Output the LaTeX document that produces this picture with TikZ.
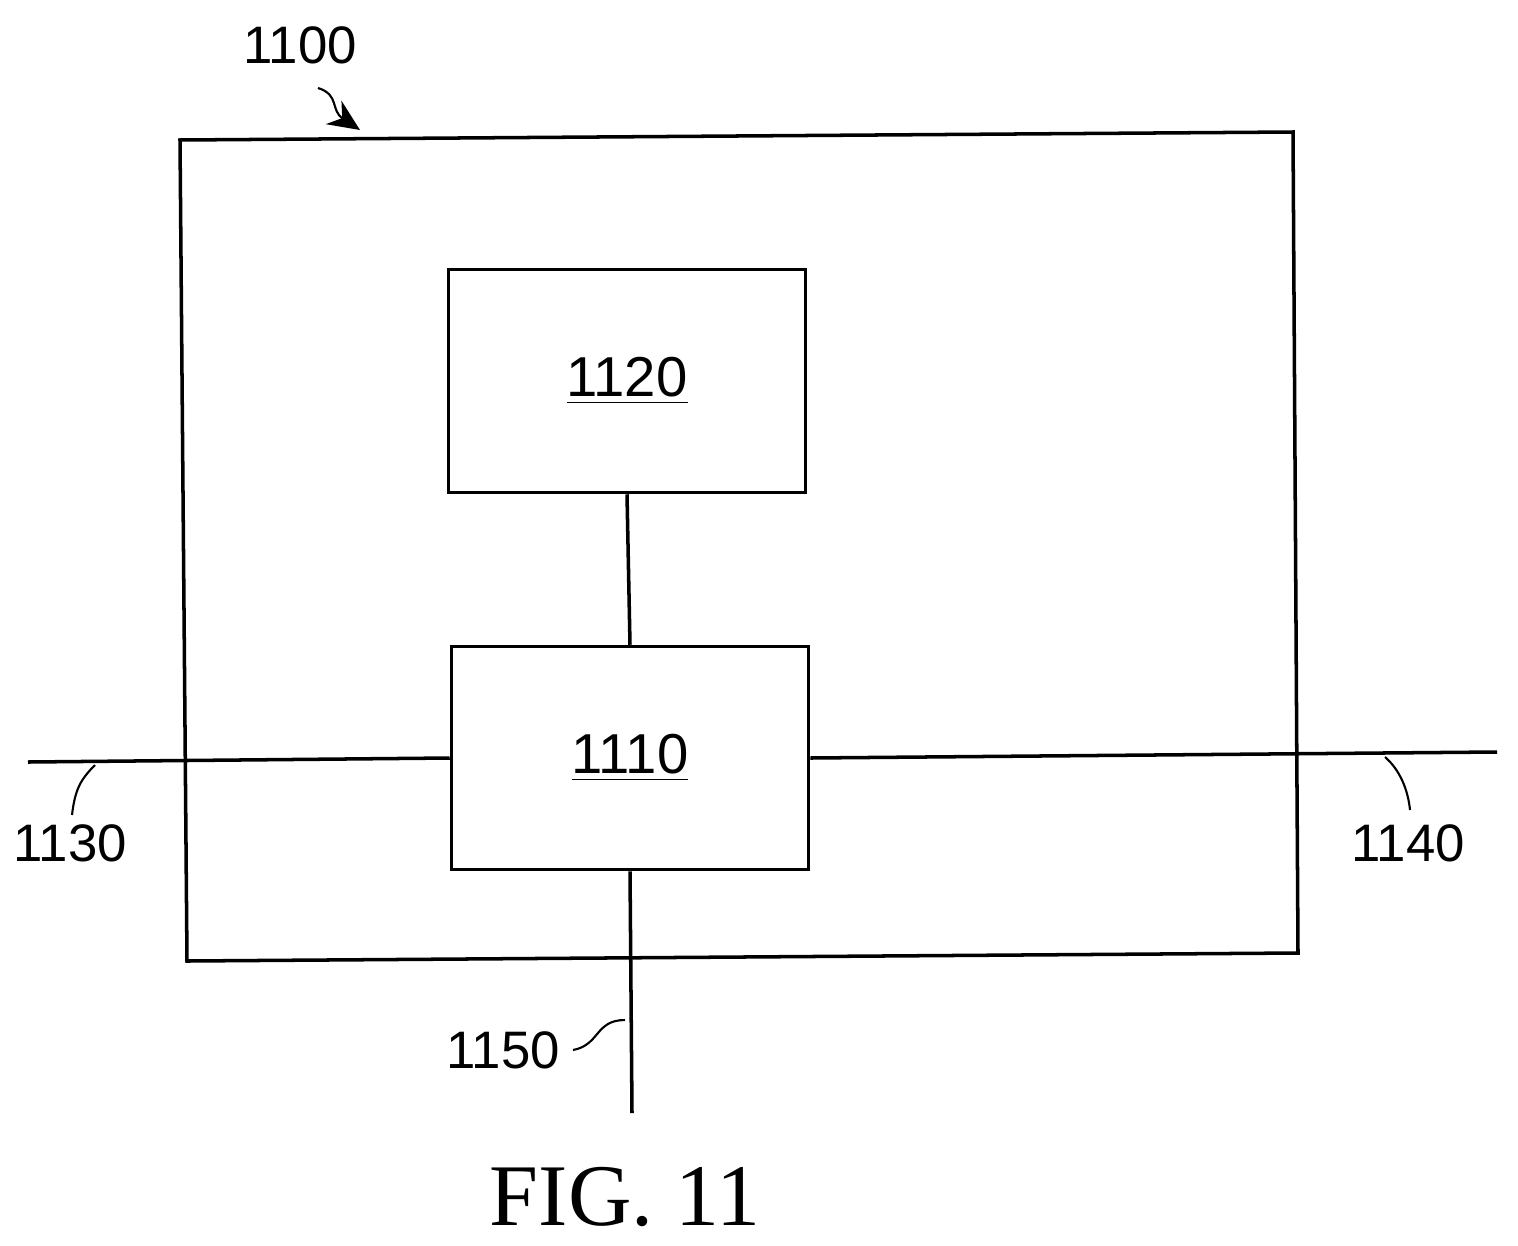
\documentclass[tikz,border=0pt]{standalone}
\usetikzlibrary{arrows.meta}
\usepackage{fontspec}
\setmainfont{Liberation Sans}
\newfontfamily\figfont{Liberation Serif}
\begin{document}
\begin{tikzpicture}[x=0.01cm,y=-0.01cm,line width=1pt,
  box/.style={draw,minimum width=357*0.01cm,minimum height=223*0.01cm,inner sep=0pt,font=\fontsize{16}{18}\selectfont},
  lbl/.style={font=\fontsize{15}{18}\selectfont,inner sep=0pt},
  lead/.style={line width=0.6pt}]
\useasboundingbox (0,0) rectangle (1518,1245);
\draw (180,140) -- (1293,132) -- (1298,953) -- (187,961) -- cycle;
\node[box] (b1120) at (627,381) {\underline{1120}};
\node[box] (b1110) at (630,758) {\underline{1110}};
\coordinate (l) at (28,762);
\coordinate (r) at (1497,752);
\coordinate (d) at (632,1113);
\draw (b1120.south) -- (b1110.north);
\draw (l) -- (b1110.west);
\draw (b1110.east) -- (r);
\draw (b1110.south) -- (d);
\node[lbl] (t1100) at (300,45) {1100};
\node[lbl] (t1130) at (70,843) {1130};
\node[lbl] (t1140) at (1408,843) {1140};
\node[lbl] (t1150) at (503,1050) {1150};
\draw[lead,-{Stealth[length=9pt,width=8pt]}] (318,88) .. controls (340,95) and (330,110) .. (360,130);
\draw[lead] (95,765) .. controls (80,780) and (75,790) .. (72,815);
\draw[lead] (1385,757) .. controls (1400,770) and (1408,790) .. (1410,810);
\draw[lead] (573,1050) .. controls (600,1045) and (595,1020) .. (625,1020);
\node[font=\figfont\fontsize{25}{28}\selectfont,inner sep=0pt] (fig) at (625,1197) {FIG. 11};
\end{tikzpicture}
\end{document}
